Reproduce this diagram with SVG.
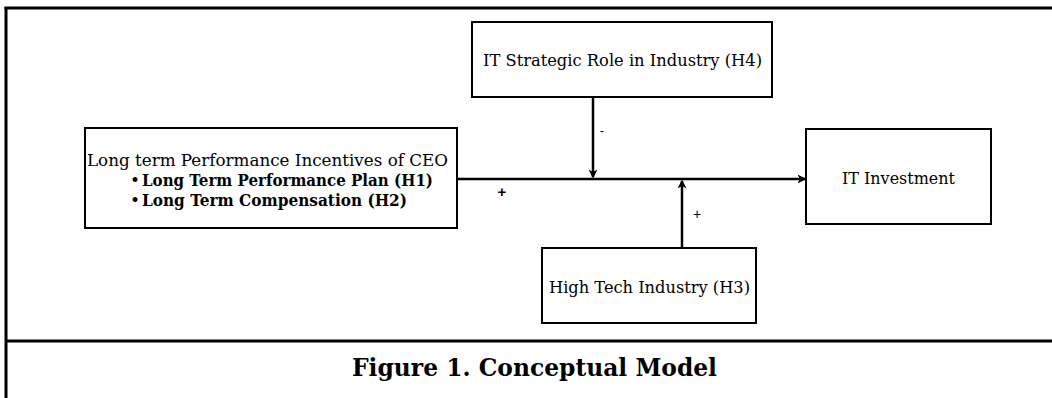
<svg xmlns="http://www.w3.org/2000/svg" width="1052" height="398" viewBox="0 0 1052 398">
<style>
.box{fill:#fff;stroke:#000;stroke-width:2}
.t{font-family:"DejaVu Serif","Liberation Serif",serif;font-size:17px;fill:#000}
.b{font-weight:bold}
.cap{font-family:"DejaVu Serif","Liberation Serif",serif;font-size:24px;font-weight:bold;fill:#000}
.conn{stroke:#000;fill:none;stroke-width:2.5}
.lbl{font-family:"Liberation Sans",sans-serif;fill:#000}
.frame{stroke:#000;stroke-width:3;fill:none}
</style>
<defs>
<marker id="ah" markerWidth="11" markerHeight="11" refX="7.5" refY="4.5" orient="auto" markerUnits="userSpaceOnUse">
<path d="M0,0 L9,4.5 L0,9 L2.5,4.5 z" fill="#000"/>
</marker>
</defs>
<rect width="1052" height="398" fill="#fff"/>
<g id="frame">
<line class="frame" x1="4.5" y1="8" x2="1052" y2="8"/>
<line class="frame" x1="6" y1="7" x2="6" y2="398"/>
<line class="frame" x1="6" y1="341" x2="1052" y2="341"/>
</g>
<g id="connectors">
<line class="conn" x1="457" y1="179" x2="805" y2="179" marker-end="url(#ah)"/>
<line class="conn" x1="593" y1="97" x2="593" y2="177" marker-end="url(#ah)"/>
<line class="conn" x1="682" y1="248" x2="682" y2="181" stroke-width="3.5" marker-end="url(#ah)"/>
<text class="lbl" x="602" y="135" font-size="13" text-anchor="middle">-</text>
<text class="lbl" x="502" y="197" font-size="15" font-weight="bold" text-anchor="middle">+</text>
<text class="lbl" x="697" y="219" font-size="14" text-anchor="middle">+</text>
</g>
<g id="n-h4">
<rect class="box" x="472" y="22" width="300" height="75"/>
<text class="t" x="483" y="66" textLength="279" lengthAdjust="spacingAndGlyphs">IT Strategic Role in Industry (H4)</text>
</g>
<g id="n-ceo">
<rect class="box" x="85" y="128" width="372" height="100"/>
<text class="t" x="87" y="166" textLength="361" lengthAdjust="spacingAndGlyphs">Long term Performance Incentives of CEO</text>
<text class="t" x="130" y="186">•</text>
<text class="t b" x="142" y="186" textLength="291" lengthAdjust="spacingAndGlyphs">Long Term Performance Plan (H1)</text>
<text class="t" x="130" y="206">•</text>
<text class="t b" x="142" y="206" textLength="265" lengthAdjust="spacingAndGlyphs">Long Term Compensation (H2)</text>
</g>
<g id="n-itinv">
<rect class="box" x="806" y="129" width="185" height="95"/>
<text class="t" x="842" y="184" textLength="113" lengthAdjust="spacingAndGlyphs">IT Investment</text>
</g>
<g id="n-h3">
<rect class="box" x="542" y="248" width="214" height="75" stroke-width="2.5"/>
<text class="t" x="549" y="293" textLength="201" lengthAdjust="spacingAndGlyphs">High Tech Industry (H3)</text>
</g>
<g id="caption">
<text class="cap" x="352" y="376" textLength="365" lengthAdjust="spacingAndGlyphs">Figure 1. Conceptual Model</text>
</g>
</svg>
